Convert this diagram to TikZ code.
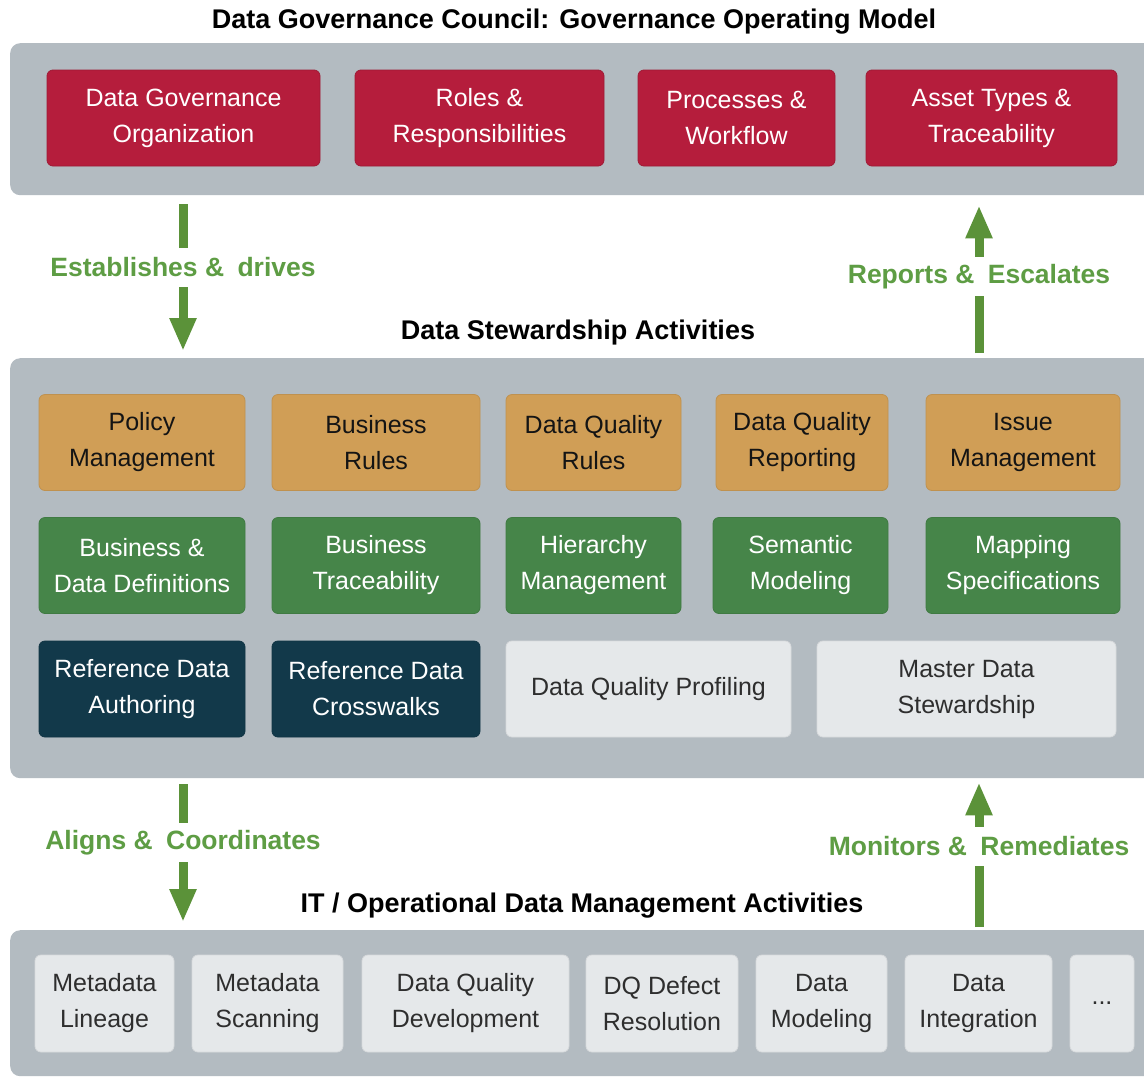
\documentclass[tikz,border=0pt]{standalone}
\usepackage{fontspec}
\setmainfont{Liberation Sans}
\usetikzlibrary{arrows.meta,positioning}
\definecolor{panelgray}{RGB}{179,187,193}
\definecolor{councilred}{RGB}{181,29,60}
\definecolor{policyorange}{RGB}{208,158,86}
\definecolor{stewgreen}{RGB}{70,133,73}
\definecolor{refteal}{RGB}{18,57,74}
\definecolor{lightbox}{RGB}{229,232,234}
\definecolor{flowgreen}{RGB}{91,146,57}
\definecolor{labelgreen}{RGB}{94,157,68}
\newcommand{\boxfont}{\fontsize{25}{36}\selectfont}

\begin{document}
\begin{tikzpicture}[x=1pt,y=-1pt,
    panel/.style={fill=panelgray,rounded corners=10pt,inner sep=0pt,anchor=north west},
    unit/.style={rounded corners=6pt,align=center,inner sep=0pt,font=\boxfont,minimum height=96pt,line width=0.8pt},
    council/.style={unit,fill=councilred,draw=councilred!88!black,text=white},
    policy/.style={unit,fill=policyorange,draw=policyorange!92!black,text=black!92},
    defs/.style={unit,fill=stewgreen,draw=stewgreen!92!black,text=white},
    refdata/.style={unit,fill=refteal,draw=refteal!92!black,text=white},
    opsbox/.style={unit,fill=lightbox,draw=lightbox!94!black,text=black!82},
    heading/.style={font=\fontsize{27}{32}\selectfont\bfseries},
    flow/.style={draw=flowgreen,line width=9pt,-{Triangle[width=25pt,length=33pt]}},
    flowlabel/.style={fill=white,text=labelgreen,font=\fontsize{26.5}{30}\selectfont\bfseries,inner xsep=1pt,inner ysep=0pt,minimum height=39pt}]

    \clip (0,0) rectangle (1144,1077);

    % the three layers
    \node[panel,minimum width=1160pt,minimum height=152pt] (gov) at (10,43) {};
    \node[panel,minimum width=1160pt,minimum height=420pt] (stew) at (10,358) {};
    \node[panel,minimum width=1160pt,minimum height=146pt] (ops) at (10,930) {};

    \node[heading] (govtitle) at (574,22) {Data Governance Council: Governance Operating Model};
    \node[heading] (stewtitle) at (578,333) {Data Stewardship Activities};
    \node[heading] (opstitle) at (582,906) {IT / Operational Data Management Activities};

    % governance operating model
    \foreach \n/\x/\w/\t in {gorg/183.5/273/{Data Governance\\Organization},groles/479.5/249/{Roles \&\\Responsibilities},
        gproc/736.5/197/{Processes \&\\Workflow},gasset/991.5/251/{Asset Types \&\\Traceability}}
        \node[council,minimum width=\w pt] (\n) at (\x,118) {\t};

    % stewardship activities
    \foreach \n/\x/\w/\t in {polmgmt/142/206/{Policy\\Management},brules/376/208/{Business\\Rules},
        dqrules/593.5/175/{Data Quality\\Rules},dqrep/802/172/{Data Quality\\Reporting},issue/1023/194/{Issue\\Management}}
        \node[policy,minimum width=\w pt] (\n) at (\x,442.5) {\t};
    \foreach \n/\x/\w/\t in {bdefs/142/206/{Business \&\\Data Definitions},btrace/376/208/{Business\\Traceability},
        hier/593.5/175/{Hierarchy\\Management},semantic/800.5/175/{Semantic\\Modeling},mapping/1023/194/{Mapping\\Specifications}}
        \node[defs,minimum width=\w pt] (\n) at (\x,565.5) {\t};
    \node[refdata,minimum width=206pt] (refauth) at (142,689) {Reference Data\\Authoring};
    \node[refdata,minimum width=208pt] (refcross) at (376,689) {Reference Data\\Crosswalks};
    \node[opsbox,minimum width=285pt] (dqprof) at (648.5,689) {Data Quality Profiling};
    \node[opsbox,minimum width=299pt] (mds) at (966.5,689) {Master Data\\Stewardship};

    % operational activities
    \foreach \n/\x/\w/\t in {mlin/104.5/139/{Metadata\\Lineage},mscan/267.5/151/{Metadata\\Scanning},
        dqdev/465.5/207/{Data Quality\\Development},dqdef/662/152/{DQ Defect\\Resolution},
        dmod/821.5/131/{Data\\Modeling},dint/978.5/147/{Data\\Integration},more/1102/64/{...}}
        \node[opsbox,minimum width=\w pt,minimum height=97pt] (\n) at (\x,1003.5) {\t};

    % flows between the layers
    \draw[flow] ([xshift=173pt,yshift=-9pt]gov.south west) -- node[flowlabel,pos=0.43] {Establishes \&\hspace{6pt} drives} ([xshift=173pt,yshift=7pt]stew.north west);
    \draw[flow] ([xshift=969pt,yshift=5pt]stew.north west) -- node[flowlabel,pos=0.52] {Reports \&\hspace{6pt} Escalates} ([xshift=969pt,yshift=-10pt]gov.south west);
    \draw[flow] ([xshift=173pt,yshift=-6pt]stew.south west) -- node[flowlabel,pos=0.424] {Aligns \&\hspace{6pt} Coordinates} ([xshift=173pt,yshift=8pt]ops.north west);
    \draw[flow] ([xshift=969pt,yshift=3pt]ops.north west) -- node[flowlabel,pos=0.56] {Monitors \&\hspace{6pt} Remediates} ([xshift=969pt,yshift=-4pt]stew.south west);
\end{tikzpicture}
\end{document}
